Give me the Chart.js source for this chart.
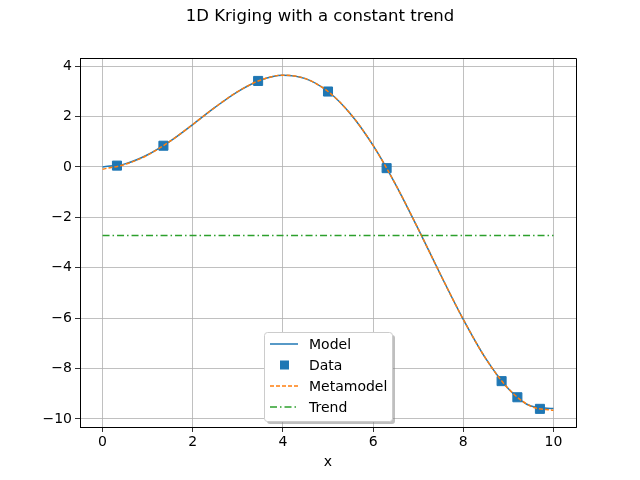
<!DOCTYPE html>
<html>
<head>
<meta charset="utf-8">
<script src="https://cdn.jsdelivr.net/npm/chart.js@4"></script>
<style>
  html, body { margin: 0; padding: 0; background: #fff; }
</style>
</head>
<body>
<canvas id="chart" width="640" height="480"></canvas>
<script>
// Data
const gridX = [0, 0.5, 1, 1.5, 2, 2.5, 3, 3.5, 4, 4.5, 5, 5.5, 6, 6.5, 7, 7.5, 8, 8.5, 9, 9.5, 10];
const modelY = [0, 0.12, 0.48, 1.02, 1.68, 2.37, 2.99, 3.44, 3.64, 3.50, 2.99, 2.10, 0.85, -0.70, -2.46, -4.29, -6.05, -7.61, -8.80, -9.49, -9.59];
const metaY = [-0.09, 0.10, 0.47, 1.02, 1.68, 2.37, 2.99, 3.44, 3.64, 3.50, 2.99, 2.10, 0.85, -0.70, -2.46, -4.29, -6.05, -7.61, -8.80, -9.50, -9.66];
const dataX = [0.32, 1.35, 3.45, 5.0, 6.3, 8.85, 9.2, 9.7];
const dataY = [0.05, 0.84, 3.41, 2.99, -0.05, -8.50, -9.14, -9.60];
const trendX = [0, 10];
const trendY = [-2.72, -2.72];
const xTicks = [0, 2, 4, 6, 8, 10];
const yTicks = [-10, -8, -6, -4, -2, 0, 2, 4];

const FONT = 'DejaVu Sans';
Chart.defaults.font.family = FONT;
Chart.defaults.font.size = 14;
Chart.defaults.color = '#000';

const pts = (xs, ys) => xs.map((x, i) => ({ x, y: ys[i] }));
const minus = v => String(v).replace('-', '\u2212');

// Frame on top/right + suptitle + legend, matplotlib style
const decor = {
  id: 'decor',
  afterDatasetsDraw(chart) {
    const { ctx, chartArea: a } = chart;
    ctx.save();
    ctx.strokeStyle = '#000';
    ctx.lineWidth = 1;
    ctx.beginPath();
    ctx.moveTo(a.left, a.top + 0.5);
    ctx.lineTo(a.right + 0.5, a.top + 0.5);
    ctx.lineTo(a.right + 0.5, a.bottom);
    ctx.stroke();
    ctx.restore();
  },
  afterDraw(chart) {
    const { ctx } = chart;
    ctx.save();
    ctx.fillStyle = '#000';
    ctx.font = `16.5px "${FONT}"`;
    ctx.textAlign = 'center';
    ctx.textBaseline = 'middle';
    ctx.fillText('1D Kriging with a constant trend', 320, 17);

    // legend
    const bx = 264, by = 332, bw = 128, bh = 89;
    ctx.fillStyle = 'rgba(128,128,128,0.5)';
    roundRect(ctx, bx + 3, by + 3, bw, bh, 3);
    ctx.fill();
    ctx.fillStyle = '#fff';
    ctx.strokeStyle = '#cccccc';
    ctx.lineWidth = 1;
    roundRect(ctx, bx + 0.5, by + 0.5, bw, bh, 3);
    ctx.fill();
    ctx.stroke();

    const sets = chart.data.datasets;
    ctx.font = `14px "${FONT}"`;
    ctx.textAlign = 'left';
    sets.forEach((ds, i) => {
      const y = 344 + i * 21;
      if (ds.showLine === false) {
        ctx.fillStyle = ds.backgroundColor;
        ctx.fillRect(280, y - 4.5, 9, 9);
      } else {
        ctx.strokeStyle = ds.borderColor;
        ctx.lineWidth = ds.borderWidth;
        ctx.setLineDash(ds.borderDash || []);
        ctx.beginPath();
        ctx.moveTo(270, y);
        ctx.lineTo(298, y);
        ctx.stroke();
        ctx.setLineDash([]);
      }
      ctx.fillStyle = '#000';
      ctx.fillText(ds.label, 309, y + 1);
    });
    ctx.restore();
  }
};

function roundRect(ctx, x, y, w, h, r) {
  ctx.beginPath();
  ctx.moveTo(x + r, y);
  ctx.lineTo(x + w - r, y);
  ctx.quadraticCurveTo(x + w, y, x + w, y + r);
  ctx.lineTo(x + w, y + h - r);
  ctx.quadraticCurveTo(x + w, y + h, x + w - r, y + h);
  ctx.lineTo(x + r, y + h);
  ctx.quadraticCurveTo(x, y + h, x, y + h - r);
  ctx.lineTo(x, y + r);
  ctx.quadraticCurveTo(x, y, x + r, y);
  ctx.closePath();
}

new Chart(document.getElementById('chart'), {
  type: 'scatter',
  data: {
    datasets: [
      {
        label: 'Model', data: pts(gridX, modelY), showLine: true,
        borderColor: '#1f77b4', backgroundColor: '#1f77b4', borderWidth: 1.5,
        pointRadius: 0, cubicInterpolationMode: 'monotone', order: 4
      },
      {
        label: 'Data', data: pts(dataX, dataY), showLine: false,
        pointStyle: 'rect', pointRadius: 6.4, borderWidth: 1,
        borderColor: '#1f77b4', backgroundColor: '#1f77b4', order: 3
      },
      {
        label: 'Metamodel', data: pts(gridX, metaY), showLine: true,
        borderColor: '#ff7f0e', backgroundColor: '#ff7f0e', borderWidth: 1.5,
        borderDash: [4, 2], pointRadius: 0, cubicInterpolationMode: 'monotone', order: 2
      },
      {
        label: 'Trend', data: pts(trendX, trendY), showLine: true,
        borderColor: '#2ca02c', backgroundColor: '#2ca02c', borderWidth: 1.5,
        borderDash: [7, 3, 1.5, 3], pointRadius: 0, order: 1
      }
    ]
  },
  options: {
    responsive: false,
    animation: false,
    devicePixelRatio: 1,
    layout: { padding: { top: 58, right: 64, left: 0, bottom: 0 } },
    plugins: { legend: { display: false }, tooltip: { enabled: false }, title: { display: false } },
    scales: {
      x: {
        type: 'linear', min: -0.5, max: 10.5,
        afterBuildTicks: s => { s.ticks = xTicks.map(v => ({ value: v })); },
        afterFit: s => { s.height = 53; },
        ticks: { padding: 2, maxRotation: 0, callback: v => minus(v) },
        grid: { color: '#b0b0b0', lineWidth: 0.8, tickColor: '#000', tickLength: 5 },
        border: { color: '#000', width: 1 },
        title: { display: true, text: 'x', padding: { top: 4, bottom: 9 }, font: { size: 14 } }
      },
      y: {
        type: 'linear', min: -10.32, max: 4.32,
        afterBuildTicks: s => { s.ticks = yTicks.map(v => ({ value: v })); },
        afterFit: s => { s.width = 80; },
        ticks: { padding: 3, callback: v => minus(v) },
        grid: { color: '#b0b0b0', lineWidth: 0.8, tickColor: '#000', tickLength: 5 },
        border: { color: '#000', width: 1 }
      }
    }
  },
  plugins: [decor]
});
</script>
</body>
</html>
